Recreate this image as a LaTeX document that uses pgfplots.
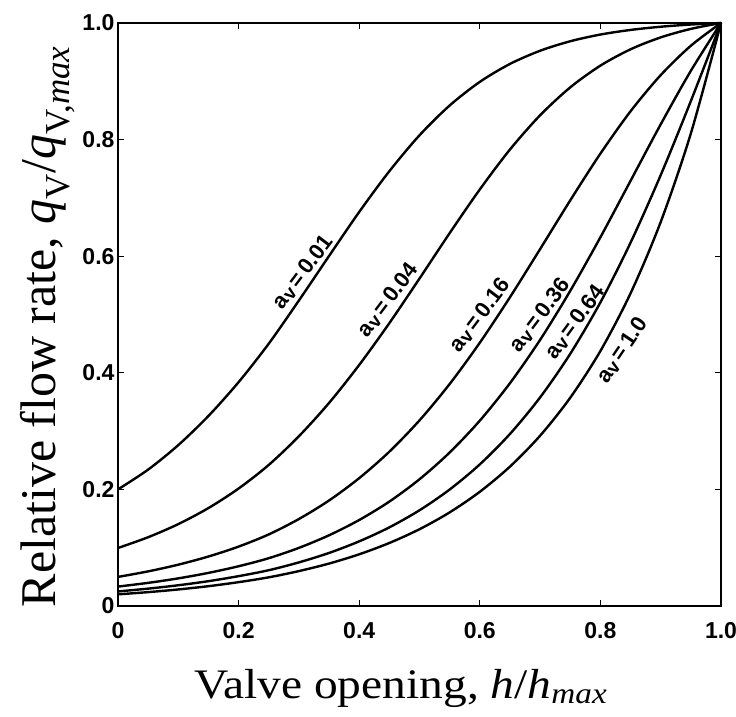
\documentclass[border=0pt]{standalone}
\usepackage{pgfplots}
\usepackage{pgfplotstable}
\pgfplotsset{compat=1.18}
\usepackage{fontspec}
\setmainfont{Liberation Serif}
\newfontfamily\sansb{Liberation Sans}
\pgfplotstableread{
h     a001   a004   a016   a036   a064   a100
0     0.2000 0.0995 0.0499 0.0333 0.0250 0.0200
0.05  0.2340 0.1180 0.0594 0.0397 0.0298 0.0238
0.10  0.2760 0.1405 0.0709 0.0474 0.0356 0.0284
0.15  0.3260 0.1680 0.0849 0.0568 0.0426 0.0340
0.20  0.3840 0.2015 0.1019 0.0682 0.0512 0.0409
0.25  0.4500 0.2420 0.1228 0.0820 0.0614 0.0492
0.30  0.5240 0.2912 0.1492 0.0997 0.0748 0.0599
0.35  0.6004 0.3483 0.1810 0.1213 0.0910 0.0728
0.40  0.6759 0.4135 0.2193 0.1475 0.1109 0.0887
0.45  0.7458 0.4852 0.2647 0.1791 0.1349 0.1081
0.50  0.8074 0.5617 0.3184 0.2174 0.1642 0.1317
0.55  0.8585 0.6396 0.3808 0.2633 0.1998 0.1606
0.60  0.8990 0.7145 0.4516 0.3179 0.2429 0.1959
0.65  0.9298 0.7830 0.5296 0.3822 0.2951 0.2391
0.70  0.9524 0.8417 0.6122 0.4565 0.3578 0.2921
0.75  0.9687 0.8896 0.6958 0.5406 0.4326 0.3573
0.80  0.9802 0.9269 0.7760 0.6325 0.5208 0.4374
0.85  0.9881 0.9549 0.8486 0.7293 0.6232 0.5363
0.90  0.9936 0.9753 0.9106 0.8262 0.7391 0.6587
0.95  0.9974 0.9899 0.9610 0.9180 0.8661 0.8106
1.00  1.0000 1.0000 1.0000 1.0000 1.0000 1.0000
}\valvedata
\newcommand{\av}[1]{a{\fontsize{19}{19}\selectfont\raisebox{-2pt}{v}}\,=\,#1}
\begin{document}
\begin{tikzpicture}
\useasboundingbox (-118pt,-110pt) rectangle (618pt,606pt);
\begin{axis}[
  at={(0,0)}, anchor=south west,
  scale only axis, width=603pt, height=583pt,
  xmin=0, xmax=1, ymin=0, ymax=1,
  axis line style={line width=2.4pt},
  xtick={0,0.2,0.4,0.6,0.8,1.0},
  ytick={0,0.2,0.4,0.6,0.8,1.0},
  xticklabels={0,0.2,0.4,0.6,0.8,1.0},
  yticklabels={0,0.2,0.4,0.6,0.8,1.0},
  tick align=inside, major tick length=6pt,
  tick style={line width=1.2pt, black},
  /pgf/number format/assume math mode=true,
  tick label style={font=\sansb\bfseries\fontsize{23}{23}\selectfont},
  xticklabel style={yshift=-13pt},
  clip=false,
  xlabel={\scalebox{1.13}[1]{Valve opening, \textit{h}/\textit{h}\textsubscript{\textit{max}}}},
  ylabel={Relative flow rate, \textit{q}\textsubscript{V}/\textit{q}\textsubscript{V,\textit{max}}},
  xlabel style={font=\fontsize{42}{46}\selectfont, at={(axis description cs:0.469,-0.158)}, anchor=base},
  ylabel style={font=\fontsize{50}{54}\selectfont, at={(axis description cs:-0.104,0.479)}, anchor=base, rotate=0},
]
\addplot[black, line width=2.4pt, smooth] table[x=h, y=a001] {\valvedata};
\addplot[black, line width=2.4pt, smooth] table[x=h, y=a004] {\valvedata};
\addplot[black, line width=2.4pt, smooth] table[x=h, y=a016] {\valvedata};
\addplot[black, line width=2.4pt, smooth] table[x=h, y=a036] {\valvedata};
\addplot[black, line width=2.4pt, smooth] table[x=h, y=a064] {\valvedata};
\addplot[black, line width=2.4pt, smooth] table[x=h, y=a100] {\valvedata};
\begin{scope}[every node/.style={font=\sansb\bfseries\fontsize{22}{22}\selectfont, inner sep=0pt}]
\node[rotate=53] at (axis cs:0.307,0.573) {\av{0.01}};
\node[rotate=53] at (axis cs:0.448,0.525) {\av{0.04}};
\node[rotate=53] at (axis cs:0.600,0.499) {\av{0.16}};
\node[rotate=53] at (axis cs:0.700,0.499) {\av{0.36}};
\node[rotate=54] at (axis cs:0.758,0.487) {\av{0.64}};
\node[rotate=56] at (axis cs:0.836,0.439) {\av{1.0}};
\end{scope}
\end{axis}
\end{tikzpicture}
\end{document}
